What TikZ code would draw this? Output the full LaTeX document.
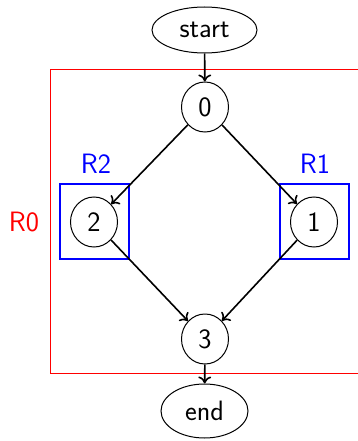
\documentclass[tikz,border=0pt]{standalone}
\usetikzlibrary{shapes.geometric,arrows.meta}
\begin{document}
\begin{tikzpicture}[x=1pt,y=-1pt,
  every node/.style={font=\sffamily\fontsize{28}{32}\selectfont},
  state/.style={draw,ellipse,line width=1pt,minimum width=47pt,minimum height=50pt,inner sep=0pt},
  term/.style={draw,ellipse,line width=1pt,inner sep=0pt},
  edge/.style={line width=1.6pt,-{To[length=7pt,width=13pt]}},
  regbox/.style={draw=blue,line width=2pt},
  reglabel/.style={text=blue}]
\useasboundingbox (0,0) rectangle (357,441);
\draw[red,line width=1pt] (50,70) rectangle (359,373);
\node[red] (r0lab) at (24,222) {R0};
\node[regbox,minimum width=69pt,minimum height=75pt] (r2box) at (94.5,221.5) {};
\node[regbox,minimum width=69pt,minimum height=75pt] (r1box) at (314.5,221.5) {};
\node[reglabel] (r2lab) at (96,164) {R2};
\node[reglabel] (r1lab) at (315,164) {R1};
\node[term,minimum width=105pt,minimum height=46pt] (start) at (204.5,30) {start};
\node[state] (n0) at (205,107) {0};
\node[state] (n2) at (94,222) {2};
\node[state] (n1) at (314,222) {1};
\node[state] (n3) at (205,339) {3};
\node[term,minimum width=87pt,minimum height=54pt] (end) at (204.5,411) {end};
\draw[edge] (start) -- (n0);
\draw[edge] (n0) -- (n2);
\draw[edge] (n0) -- (n1);
\draw[edge] (n2) -- (n3);
\draw[edge] (n1) -- (n3);
\draw[edge] (n3) -- (end);
\end{tikzpicture}
\end{document}
